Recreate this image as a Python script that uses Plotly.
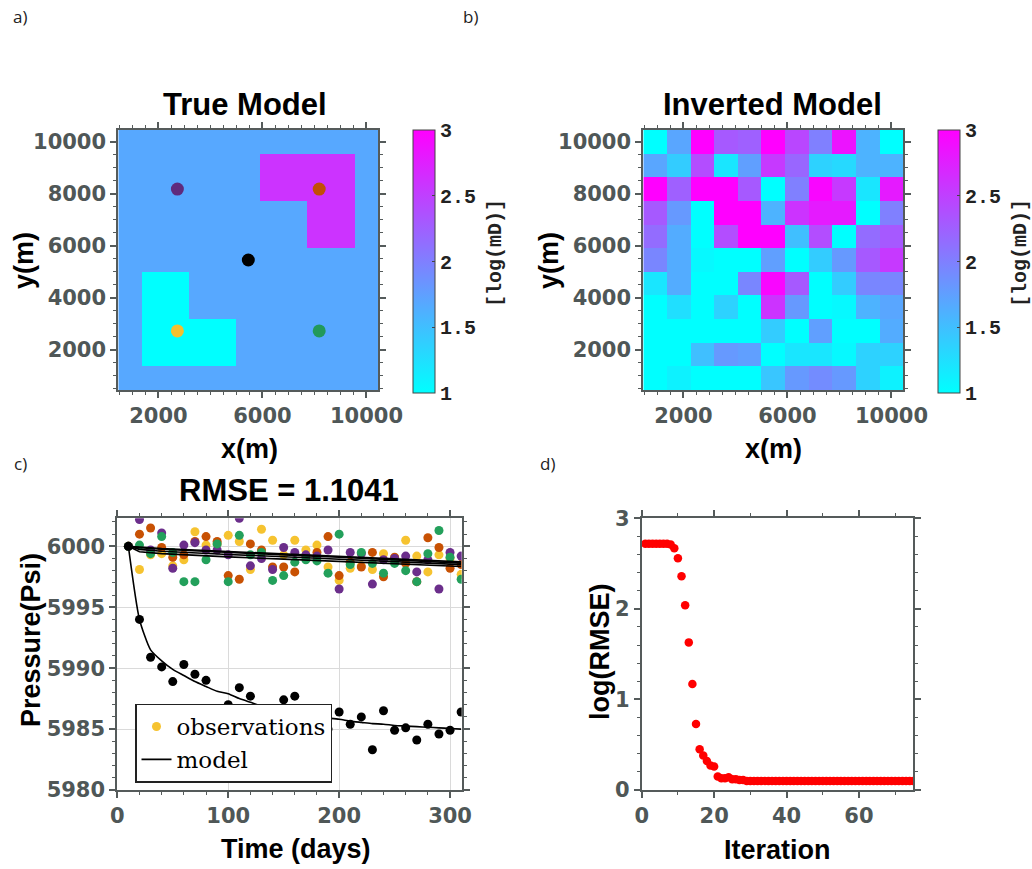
import plotly.graph_objects as go

W, H = 1032, 869

# ---------------- data ----------------
N_CELLS = 11
DOMAIN = 10000.0
CELL = DOMAIN / N_CELLS
cell_centers = [CELL * (i + 1) for i in range(N_CELLS)]

# true model log-permeability, rows listed top (north) to bottom (south)
true_rows = [
    [1.68, 1.68, 1.68, 1.68, 1.68, 1.68, 1.68, 1.68, 1.68, 1.68, 1.68],
    [1.68, 1.68, 1.68, 1.68, 1.68, 1.68, 2.6, 2.6, 2.6, 2.6, 1.68],
    [1.68, 1.68, 1.68, 1.68, 1.68, 1.68, 2.6, 2.6, 2.6, 2.6, 1.68],
    [1.68, 1.68, 1.68, 1.68, 1.68, 1.68, 1.68, 1.68, 2.6, 2.6, 1.68],
    [1.68, 1.68, 1.68, 1.68, 1.68, 1.68, 1.68, 1.68, 2.6, 2.6, 1.68],
    [1.68, 1.68, 1.68, 1.68, 1.68, 1.68, 1.68, 1.68, 1.68, 1.68, 1.68],
    [1.68, 1.0, 1.0, 1.68, 1.68, 1.68, 1.68, 1.68, 1.68, 1.68, 1.68],
    [1.68, 1.0, 1.0, 1.68, 1.68, 1.68, 1.68, 1.68, 1.68, 1.68, 1.68],
    [1.68, 1.0, 1.0, 1.0, 1.0, 1.68, 1.68, 1.68, 1.68, 1.68, 1.68],
    [1.68, 1.0, 1.0, 1.0, 1.0, 1.68, 1.68, 1.68, 1.68, 1.68, 1.68],
    [1.68, 1.68, 1.68, 1.68, 1.68, 1.68, 1.68, 1.68, 1.68, 1.68, 1.68],
]

# inverted model, rows listed top to bottom
inv_rows = [
    [1.0, 1.7, 3.0, 2.3, 2.25, 3.0, 2.45, 2.0, 2.85, 1.6, 1.0],
    [1.7, 1.4, 2.4, 1.2, 1.75, 2.55, 2.2, 1.35, 1.3, 1.6, 1.6],
    [3.0, 2.25, 3.0, 3.0, 2.3, 1.0, 2.0, 2.95, 2.55, 1.2, 2.8],
    [2.3, 1.8, 1.0, 3.0, 3.0, 1.6, 2.6, 2.8, 2.8, 1.0, 2.0],
    [2.15, 1.65, 1.0, 2.4, 3.0, 3.0, 1.5, 2.4, 1.0, 2.15, 2.3],
    [1.95, 1.65, 1.05, 1.0, 1.0, 1.75, 1.0, 1.4, 1.8, 2.3, 2.55],
    [1.2, 1.65, 1.0, 1.0, 1.95, 2.95, 2.3, 1.0, 1.4, 1.95, 1.95],
    [1.0, 1.25, 1.0, 1.35, 1.0, 2.6, 1.8, 1.0, 1.05, 1.6, 1.7],
    [1.0, 1.0, 1.0, 1.0, 1.0, 1.4, 1.0, 1.75, 1.0, 1.0, 1.65],
    [1.0, 1.0, 1.5, 1.8, 1.75, 1.0, 1.2, 1.2, 1.05, 1.35, 1.35],
    [1.0, 1.1, 1.0, 1.0, 1.0, 1.45, 1.8, 1.9, 1.8, 1.35, 1.1],
]

well_x = [2727, 8182, 5455, 2727, 8182]
well_y = [8182, 8182, 5455, 2727, 2727]
well_colors_map = ["#5f2a7d", "#c24f06", "#000000", "#f3c02f", "#22995b"]

xy_ticks = [2000, 6000, 10000]
y_ticks_ab = [2000, 4000, 6000, 8000, 10000]

times = [10, 20, 30, 40, 50, 60, 70, 80, 90, 100, 110, 120, 130, 140, 150, 160,
         170, 180, 190, 200, 210, 220, 230, 240, 250, 260, 270, 280, 290, 300, 310]

obs_yellow = [6000, 5998.1, 5999.3, 5999.4, 5998.4, 5998.9, 6001.2, 6000.1, 6000.2, 6000.9,
              6000.4, 5998.1, 6001.4, 6000.5, 5999.3, 6000.5, 5999.7, 6000.1, 5998.3, 5997.2,
              5998.2, 5998.4, 5998.1, 5999.4, 5999.0, 6000.5, 5999.2, 5997.9, 5999.3, 5999.0, 5997.7]
obs_orange = [6000, 6001.0, 6001.5, 5999.9, 5999.1, 5999.3, 6000.4, 6000.8, 6000.4, 5997.6,
              5997.3, 6000.2, 5999.7, 5998.3, 5998.3, 5997.9, 5999.2, 5999.5, 6000.8, 5997.6,
              5998.7, 5998.3, 5999.5, 5997.5, 5999.1, 5998.6, 5997.1, 6000.7, 5999.9, 5998.2, 5998.5]
obs_purple = [6000, 6002.2, 5999.7, 6001.1, 5998.2, 6000.1, 6000.3, 5999.7, 5999.7, 5999.3,
              6002.3, 5998.4, 5999.0, 5998.1, 5999.9, 5999.5, 5999.3, 5999.2, 5999.7, 5996.5,
              5999.5, 5999.4, 5996.9, 5998.9, 5999.0, 5999.2, 5997.9, 5998.9, 5996.5, 5999.5, 5999.2]
obs_green = [6000, 6000.1, 5999.4, 6000.8, 5999.5, 5997.1, 5997.1, 5998.9, 6000.2, 5997.1,
             6000.9, 5999.3, 5999.5, 5997.2, 5997.6, 5998.7, 5998.9, 5998.8, 5997.8, 6001.0,
             5998.5, 5999.5, 5998.6, 5997.8, 5998.6, 5998.0, 5997.1, 5999.4, 6001.3, 5999.1, 5997.3]
obs_black = [6000, 5994.0, 5990.9, 5990.1, 5988.9, 5990.3, 5989.5, 5989.0, 5986.0, 5987.0,
             5988.4, 5987.7, 5986.6, 5985.5, 5987.4, 5987.7, 5985.8, 5985.5, 5985.0, 5986.4,
             5985.4, 5986.0, 5983.3, 5986.5, 5984.9, 5985.1, 5984.1, 5985.4, 5984.6, 5984.9, 5986.4]

model_t_flat = [10, 20, 40, 70, 100, 150, 200, 250, 310]
model_orange = [6000, 5999.92, 5999.82, 5999.7, 5999.58, 5999.38, 5999.18, 5998.98, 5998.72]
model_purple = [6000, 5999.88, 5999.76, 5999.62, 5999.5, 5999.3, 5999.1, 5998.9, 5998.62]
model_yellow = [6000, 5999.75, 5999.6, 5999.45, 5999.33, 5999.15, 5998.95, 5998.75, 5998.5]
model_green = [6000, 5999.55, 5999.4, 5999.25, 5999.13, 5998.95, 5998.77, 5998.58, 5998.35]
model_black = [6000, 5994.0, 5991.5, 5990.6, 5989.9, 5989.4, 5988.9, 5988.5, 5988.1, 5987.9,
               5987.5, 5987.2, 5986.9, 5986.7, 5986.5, 5986.3, 5986.1, 5986.0, 5985.9, 5985.8,
               5985.65, 5985.55, 5985.45, 5985.4, 5985.3, 5985.25, 5985.2, 5985.15, 5985.1,
               5985.05, 5985.0]

iterations = list(range(1, 76))
log_rmse = [2.72, 2.72, 2.72, 2.72, 2.72, 2.72, 2.72, 2.71, 2.67, 2.56,
            2.36, 2.04, 1.63, 1.17, 0.73, 0.45, 0.38, 0.32, 0.27, 0.26,
            0.15, 0.13, 0.13, 0.14, 0.12, 0.12, 0.11, 0.11, 0.10, 0.10,
            0.10, 0.10, 0.10, 0.10, 0.10, 0.10, 0.10, 0.10, 0.10, 0.10,
            0.10, 0.10, 0.10, 0.10, 0.10, 0.10, 0.10, 0.10, 0.10, 0.10,
            0.10, 0.10, 0.10, 0.10, 0.10, 0.10, 0.10, 0.10, 0.10, 0.10,
            0.10, 0.10, 0.10, 0.10, 0.10, 0.10, 0.10, 0.10, 0.10, 0.10,
            0.10, 0.10, 0.10, 0.10, 0.10]

# ---------------- styling helpers ----------------
def px_x(x):
    return x / W

def px_y(y):
    return 1 - y / H

AX_COLOR = "#555b5b"
TICK_FONT = dict(family="DejaVu Sans", size=21, color="#4f5757", weight="bold")
TITLE_FONT = dict(family="Liberation Sans", size=27, color="#000000", weight="bold")
HEAD_FONT = dict(family="Liberation Sans", size=31, color="#000000", weight="bold")
CB_FONT = dict(family="Liberation Mono", size=20, color="#222222", weight="bold")
CB_TITLE_FONT = dict(family="Liberation Mono", size=20, color="#222222", weight="bold")
LABEL_FONT = dict(family="Open Sans", size=17, color="#222222")

cool = [[0.0, "#00ffff"], [1.0, "#ff00ff"]]


def axis(domain, anchor, rng, tickvals, minor_dtick, grid=False):
    return dict(
        domain=domain, anchor=anchor, range=rng, tickvals=tickvals,
        ticktext=[str(v) for v in tickvals],
        showline=True, linecolor=AX_COLOR, linewidth=2, mirror="ticks",
        ticks="outside", ticklen=6, tickwidth=1.5, tickcolor=AX_COLOR,
        tickfont=TICK_FONT, showgrid=grid, gridcolor="#dadada", gridwidth=1,
        zeroline=False, fixedrange=True, automargin=False,
        minor=dict(tick0=0, dtick=minor_dtick, ticks="outside", ticklen=3,
                   tickwidth=1, tickcolor=AX_COLOR, showgrid=False),
    )


def colorbar(xpx):
    return dict(
        x=px_x(xpx), xanchor="left", xpad=0,
        y=px_y(261.7), yanchor="middle", ypad=0,
        len=263, lenmode="pixels", thickness=22, thicknessmode="pixels",
        outlinecolor="#444444", outlinewidth=1,
        tickvals=[1, 1.5, 2, 2.5, 3], ticktext=["1", "1.5", "2", "2.5", "3"],
        ticks="inside", ticklen=3, tickcolor="#444444",
        tickfont=CB_FONT,
    )


fig = go.Figure()

# ---------------- panel a ----------------
fig.add_trace(go.Heatmap(
    x=cell_centers, y=cell_centers, z=true_rows[::-1],
    colorscale=cool, zmin=1, zmax=3, xaxis="x", yaxis="y",
    colorbar=colorbar(413.3), showscale=True, hoverinfo="skip",
))
fig.add_trace(go.Scatter(
    x=well_x, y=well_y, mode="markers", xaxis="x", yaxis="y",
    marker=dict(size=13, color=well_colors_map), showlegend=False, hoverinfo="skip",
))

# ---------------- panel b ----------------
fig.add_trace(go.Heatmap(
    x=cell_centers, y=cell_centers, z=inv_rows[::-1],
    colorscale=cool, zmin=1, zmax=3, xaxis="x2", yaxis="y2",
    colorbar=colorbar(938.0), showscale=True, hoverinfo="skip",
))

# ---------------- panel c ----------------
obs_sets = [
    (obs_yellow, "#f6c330", True),
    (obs_orange, "#c85103", False),
    (obs_purple, "#6b2e8b", False),
    (obs_green, "#23a05b", False),
    (obs_black, "#000000", False),
]
for vals, col, leg in obs_sets:
    fig.add_trace(go.Scatter(
        x=times, y=vals, mode="markers", xaxis="x3", yaxis="y3",
        marker=dict(size=9, color=col), name="observations",
        showlegend=leg, hoverinfo="skip",
    ))

model_sets = [model_orange, model_purple, model_yellow, model_green]
first = True
for vals in model_sets:
    fig.add_trace(go.Scatter(
        x=model_t_flat, y=vals, mode="lines", xaxis="x3", yaxis="y3",
        line=dict(color="#000000", width=1.6), name="model",
        showlegend=first, hoverinfo="skip",
    ))
    first = False
fig.add_trace(go.Scatter(
    x=times, y=model_black, mode="lines", xaxis="x3", yaxis="y3",
    line=dict(color="#000000", width=1.6, shape="spline", smoothing=0.6),
    name="model", showlegend=False, hoverinfo="skip",
))

# ---------------- panel d ----------------
fig.add_trace(go.Scatter(
    x=iterations, y=log_rmse, mode="markers", xaxis="x4", yaxis="y4",
    marker=dict(size=8.5, color="#ff0000"), showlegend=False, hoverinfo="skip",
))

# ---------------- layout ----------------
dom_a_x = [px_x(118.3), px_x(378.3)]
dom_b_x = [px_x(643.3), px_x(903.3)]
dom_ab_y = [px_y(390), px_y(130)]
dom_c_x = [px_x(117.3), px_x(461.7)]
dom_d_x = [px_x(641.7), px_x(913.3)]
dom_cd_y = [px_y(790), px_y(518.3)]

xy_range = [CELL / 2, DOMAIN + CELL / 2]

fig.update_layout(
    width=W, height=H, margin=dict(l=0, r=0, t=0, b=0, pad=0, autoexpand=False),
    paper_bgcolor="white", plot_bgcolor="white",
    xaxis=axis(dom_a_x, "y", xy_range, xy_ticks, 500),
    yaxis=axis(dom_ab_y, "x", xy_range, y_ticks_ab, 500),
    xaxis2=axis(dom_b_x, "y2", xy_range, xy_ticks, 500),
    yaxis2=axis(dom_ab_y, "x2", xy_range, y_ticks_ab, 500),
    xaxis3=axis(dom_c_x, "y3", [0, 310.5], [0, 100, 200, 300], 20, grid=True),
    yaxis3=axis(dom_cd_y, "x3", [5980, 6002.3], [5980, 5985, 5990, 5995, 6000], 1, grid=True),
    xaxis4=axis(dom_d_x, "y4", [0, 75], [0, 20, 40, 60], 10),
    yaxis4=axis(dom_cd_y, "x4", [0, 3], [0, 1, 2, 3], 0.2),
    legend=dict(
        x=px_x(135), y=px_y(743), xanchor="left", yanchor="middle",
        bgcolor="white", bordercolor="#222222", borderwidth=1.5,
        font=dict(family="DejaVu Serif", size=23, color="#000000"),
        tracegroupgap=0, itemwidth=30,
    ),
)

annos = [
    ("True Model", 245, 104, HEAD_FONT, 0),
    ("Inverted Model", 772, 104, HEAD_FONT, 0),
    ("RMSE = 1.1041", 289, 490, HEAD_FONT, 0),
    ("x(m)", 249, 449, TITLE_FONT, 0),
    ("x(m)", 773, 449, TITLE_FONT, 0),
    ("y(m)", 24, 261, TITLE_FONT, -90),
    ("y(m)", 549, 261, TITLE_FONT, -90),
    ("Time (days)", 296, 849, TITLE_FONT, 0),
    ("Pressure(Psi)", 31, 640, TITLE_FONT, -90),
    ("Iteration", 777, 850, TITLE_FONT, 0),
    ("log(RMSE)", 600, 652, TITLE_FONT, -90),
    ("[log(mD)]", 495, 253, CB_TITLE_FONT, -90),
    ("[log(mD)]", 1020, 253, CB_TITLE_FONT, -90),
    ("a)", 20, 17, LABEL_FONT, 0),
    ("b)", 470, 17, LABEL_FONT, 0),
    ("c)", 20, 463, LABEL_FONT, 0),
    ("d)", 547, 463, LABEL_FONT, 0),
]
fig.update_layout(annotations=[
    dict(text=t, x=px_x(x), y=px_y(y), xref="paper", yref="paper",
         xanchor="center", yanchor="middle", showarrow=False, font=f, textangle=a)
    for t, x, y, f, a in annos
])

fig.write_html("out.html", config={"displayModeBar": False})
